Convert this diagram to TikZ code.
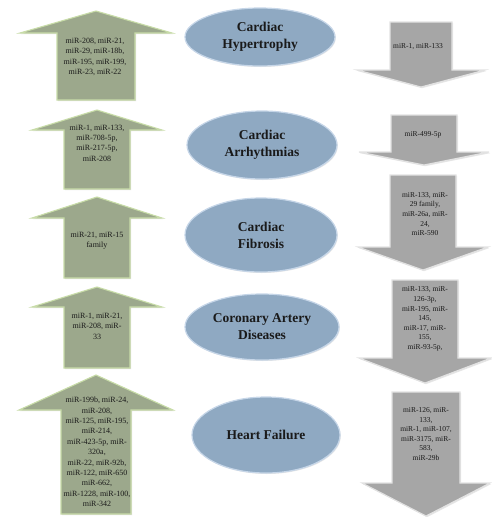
\documentclass[tikz,border=0pt]{standalone}
\usepackage{fontspec}
\setmainfont{Liberation Serif}
\usepackage{xcolor}
\usepackage{tikz}
\usetikzlibrary{shapes.geometric,shadows}
\definecolor{upfill}{HTML}{9CA88C}
\definecolor{upline}{HTML}{C8DCA8}
\definecolor{dnfill}{HTML}{A6A6A6}
\definecolor{dnline}{HTML}{E2E2E2}
\definecolor{disfill}{HTML}{8FA9C2}
\definecolor{disline}{HTML}{C6D6E8}
\definecolor{ink}{HTML}{1A1A1A}
\tikzset{
  upbox/.style={fill=upfill, draw=upline, line width=1.1pt, line join=miter,
    drop shadow={shadow xshift=1pt, shadow yshift=-1.2pt, opacity=0.25}},
  dnbox/.style={fill=dnfill, draw=dnline, line width=1.1pt, line join=miter,
    drop shadow={shadow xshift=1pt, shadow yshift=-1.2pt, opacity=0.2}},
  disease/.style={ellipse, fill=disfill, draw=disline, line width=1.2pt,
    inner sep=0pt, align=center, text=ink, font=\fontsize{13.5}{17}\selectfont\bfseries,
    drop shadow={shadow xshift=0.8pt, shadow yshift=-1pt, opacity=0.2}},
  upmir/.style={align=center, text=ink, inner sep=0pt, font=\fontsize{8}{10.4}\selectfont},
  dnmir/.style={align=center, text=ink, inner sep=0pt, font=\fontsize{7.5}{9.6}\selectfont},
}
% cx, tip, wing, bottom, wing half, shaft half
\newcommand{\uparw}[6]{%
  \draw[upbox] (#1,#2) -- (#1+#5,#3) -- (#1+#6,#3) -- (#1+#6,#4)
    -- (#1-#6,#4) -- (#1-#6,#3) -- (#1-#5,#3) -- cycle;}
% cx, top, wing, tip, wing half, shaft half
\newcommand{\dnarw}[6]{%
  \draw[dnbox] (#1-#6,#2) -- (#1+#6,#2) -- (#1+#6,#3) -- (#1+#5,#3)
    -- (#1,#4) -- (#1-#5,#3) -- (#1-#6,#3) -- cycle;}

\begin{document}
\begin{tikzpicture}[x=1pt, y=-1pt]
  \useasboundingbox (0,0) rectangle (492,517);

  % up-regulated
  \uparw{96}{11}{33}{100}{76}{39}
  \uparw{97}{110}{130}{189}{65}{33}
  \uparw{97}{197}{218}{278}{65}{33}
  \uparw{97}{287}{307}{368}{65}{33}
  \uparw{96}{375}{410}{514}{77}{35}

  % down-regulated
  \dnarw{421}{22}{70}{87}{64}{31}
  \dnarw{424}{115}{152}{165}{65}{33}
  \dnarw{423}{175}{247}{270}{65}{33}
  \dnarw{425}{280}{358}{383}{66}{33}
  \dnarw{426}{392}{483}{516}{64}{34}

  % diseases
  \node[disease, minimum width=150pt, minimum height=58pt] (hyp) at (260,37) {Cardiac\\Hypertrophy};
  \node[disease, minimum width=150pt, minimum height=68pt] (arr) at (262,145) {Cardiac\\Arrhythmias};
  \node[disease, minimum width=152pt, minimum height=74pt] (fib) at (261,235) {Cardiac\\Fibrosis};
  \node[disease, minimum width=154pt, minimum height=66pt] (cad) at (262,327) {Coronary Artery\\Diseases};
  \node[disease, minimum width=148pt, minimum height=76pt] (hf) at (266,435) {Heart Failure};

  % miRNA lists
  \node[upmir] (up1) at (95,57) {miR-208, miR-21,\\miR-29, miR-18b,\\miR-195, miR-199,\\miR-23, miR-22};
  \node[upmir] (up2) at (97,143) {miR-1, miR-133,\\miR-708-5p,\\miR-217-5p,\\miR-208};
  \node[upmir] (up3) at (97,241) {miR-21, miR-15\\family};
  \node[upmir] (up4) at (97,326) {miR-1, miR-21,\\miR-208, miR-\\33};
  \node[upmir] (up5) at (97,452) {miR-199b, miR-24,\\miR-208,\\miR-125, miR-195,\\miR-214,\\miR-423-5p, miR-\\320a,\\miR-22, miR-92b,\\miR-122, miR-650\\miR-662,\\miR-1228, miR-100,\\miR-342};

  \node[dnmir] (dn1) at (418,47) {miR-1, miR-133};
  \node[dnmir] (dn2) at (423,135) {miR-499-5p};
  \node[dnmir] (dn3) at (425,214) {miR-133, miR-\\29 family,\\miR-26a, miR-\\24,\\miR-590};
  \node[dnmir] (dn4) at (425,319) {miR-133, miR-\\126-3p,\\miR-195, miR-\\145,\\miR-17, miR-\\155,\\miR-93-5p,};
  \node[dnmir] (dn5) at (426,434) {miR-126, miR-\\133,\\miR-1, miR-107,\\miR-3175, miR-\\583,\\miR-29b};
\end{tikzpicture}
\end{document}
